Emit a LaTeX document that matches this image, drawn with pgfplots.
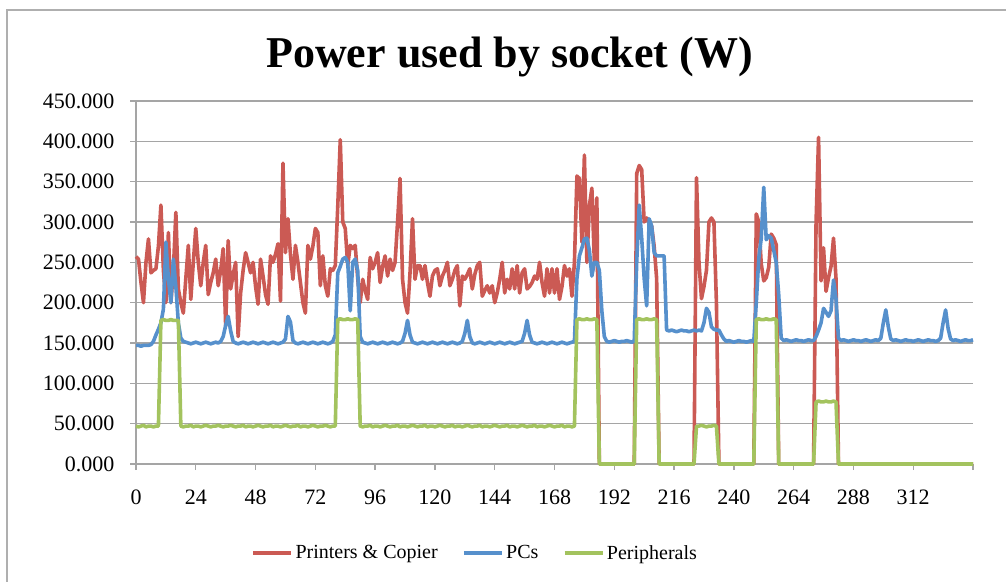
\documentclass[border=0pt]{standalone}
\usepackage{pgfplots}
\pgfplotsset{compat=1.18}
\usepackage{pgfplotstable}
\usepackage{fontspec}
\setmainfont{Liberation Serif}
\definecolor{pcred}{RGB}{203,90,84}
\definecolor{pcblue}{RGB}{86,144,204}
\definecolor{pcgreen}{RGB}{163,195,94}
\definecolor{gridgray}{RGB}{165,165,165}
\definecolor{framegray}{RGB}{175,175,175}

% h = hour, r = Printers & Copier, b = PCs, g = Peripherals
\pgfplotstableread[row sep=\\]{
h r b g\\
0 257 147 47\\ 1 254 147 46\\ 2 225 146 47\\ 3 200 147 48\\ 4 250 147 46\\
5 279 147 47\\ 6 237 148 47\\ 7 240 152 46\\ 8 242 160 47\\ 9 270 167 47\\
10 321 175 178\\ 11 240 192 179\\ 12 200 275 178\\ 13 287 230 178\\ 14 200 200 179\\
15 240 254 178\\ 16 312 220 178\\ 17 217 175 178\\ 18 200 156 47\\ 19 187 152 46\\
20 230 151 47\\ 21 271 150 47\\ 22 204 149 48\\ 23 250 150 46\\ 24 292 151 47\\
25 250 150 47\\ 26 221 149 46\\ 27 250 150 47\\ 28 271 151 48\\ 29 210 150 47\\
30 225 149 46\\ 31 237 150 47\\ 32 254 151 47\\ 33 221 150 48\\ 34 240 152 47\\
35 267 158 46\\ 36 171 172 47\\ 37 277 183 47\\ 38 217 165 48\\ 39 235 152 47\\
40 250 150 46\\ 41 158 149 47\\ 42 212 150 47\\ 43 240 151 48\\ 44 262 150 46\\
45 250 149 47\\ 46 237 150 47\\ 47 250 151 46\\ 48 220 150 47\\ 49 198 149 48\\
50 254 150 47\\ 51 233 151 46\\ 52 210 150 47\\ 53 198 149 47\\ 54 258 150 48\\
55 250 151 46\\ 56 260 150 47\\ 57 273 149 47\\ 58 202 150 46\\ 59 373 151 47\\
60 262 155 48\\ 61 304 183 47\\ 62 260 176 46\\ 63 229 153 47\\ 64 271 150 47\\
65 250 149 48\\ 66 225 150 46\\ 67 200 151 47\\ 68 187 150 47\\ 69 271 149 46\\
70 254 150 47\\ 71 270 151 48\\ 72 292 150 47\\ 73 287 149 46\\ 74 221 150 47\\
75 258 151 47\\ 76 221 150 48\\ 77 208 149 47\\ 78 242 150 46\\ 79 240 152 47\\
80 246 160 47\\ 81 320 237 179\\ 82 402 245 180\\ 83 300 254 179\\ 84 292 256 179\\
85 246 250 180\\ 86 271 190 179\\ 87 267 250 179\\ 88 271 254 180\\ 89 230 240 179\\
90 200 158 47\\ 91 229 151 46\\ 92 215 150 47\\ 93 204 149 47\\ 94 256 150 48\\
95 242 151 46\\ 96 250 150 47\\ 97 262 149 47\\ 98 225 150 46\\ 99 245 151 47\\
100 258 150 48\\ 101 233 149 47\\ 102 254 150 46\\ 103 240 151 47\\ 104 250 150 47\\
105 300 149 48\\ 106 354 150 46\\ 107 229 152 47\\ 108 200 162 47\\ 109 187 178 46\\
110 237 160 47\\ 111 304 151 48\\ 112 229 150 47\\ 113 246 149 46\\ 114 246 150 47\\
115 229 151 47\\ 116 246 150 48\\ 117 225 149 46\\ 118 208 150 47\\ 119 233 151 47\\
120 240 150 46\\ 121 242 149 47\\ 122 221 150 48\\ 123 233 151 47\\ 124 240 150 46\\
125 250 149 47\\ 126 221 150 47\\ 127 229 151 48\\ 128 240 150 46\\ 129 246 149 47\\
130 196 150 47\\ 131 233 152 46\\ 132 229 162 47\\ 133 235 178 48\\ 134 242 158 47\\
135 217 150 46\\ 136 235 149 47\\ 137 246 150 47\\ 138 250 151 48\\ 139 208 150 46\\
140 215 149 47\\ 141 221 150 47\\ 142 212 151 46\\ 143 221 150 47\\ 144 200 149 48\\
145 212 150 47\\ 146 229 151 46\\ 147 250 150 47\\ 148 212 149 47\\ 149 229 150 48\\
150 217 151 46\\ 151 242 150 47\\ 152 217 149 47\\ 153 246 150 46\\ 154 212 151 47\\
155 237 152 48\\ 156 242 162 47\\ 157 217 178 46\\ 158 220 160 47\\ 159 225 151 47\\
160 233 150 48\\ 161 229 149 46\\ 162 250 150 47\\ 163 225 151 47\\ 164 208 150 46\\
165 242 149 47\\ 166 212 150 48\\ 167 242 151 47\\ 168 212 150 46\\ 169 242 149 47\\
170 204 150 47\\ 171 220 151 48\\ 172 246 150 46\\ 173 233 149 47\\ 174 242 150 47\\
175 208 151 46\\ 176 250 152 47\\ 177 357 230 179\\ 178 354 258 180\\ 179 275 268 179\\
180 383 279 179\\ 181 250 280 180\\ 182 320 265 179\\ 183 342 233 179\\ 184 250 250 180\\
185 330 250 179\\ 186 0 240 0\\ 187 0 190 0\\ 188 0 158 0\\ 189 0 152 0\\
190 0 151 0\\ 191 0 152 0\\ 192 0 153 0\\ 193 0 152 0\\ 194 0 151 0\\
195 0 152 0\\ 196 0 152 0\\ 197 0 153 0\\ 198 0 152 0\\ 199 0 151 0\\
200 0 152 0\\ 201 360 250 179\\ 202 370 321 180\\ 203 365 280 179\\ 204 300 230 179\\
205 305 196 180\\ 206 300 304 179\\ 207 295 295 179\\ 208 270 262 180\\ 209 230 258 179\\
210 0 258 0\\ 211 0 258 0\\ 212 0 258 0\\ 213 0 166 0\\ 214 0 165 0\\
215 0 166 0\\ 216 0 165 0\\ 217 0 164 0\\ 218 0 165 0\\ 219 0 166 0\\
220 0 165 0\\ 221 0 165 0\\ 222 0 164 0\\ 223 0 165 0\\ 224 0 166 0\\
225 355 165 47\\ 226 250 166 47\\ 227 205 165 48\\ 228 220 175 47\\ 229 240 193 46\\
230 300 188 47\\ 231 305 170 47\\ 232 300 167 48\\ 233 200 166 47\\ 234 0 166 0\\
235 0 160 0\\ 236 0 155 0\\ 237 0 152 0\\ 238 0 153 0\\ 239 0 152 0\\
240 0 151 0\\ 241 0 152 0\\ 242 0 153 0\\ 243 0 152 0\\ 244 0 152 0\\
245 0 151 0\\ 246 0 152 0\\ 247 0 153 0\\ 248 0 152 0\\ 249 310 200 179\\
250 300 255 180\\ 251 248 280 179\\ 252 227 343 179\\ 253 231 278 180\\ 254 244 283 179\\
255 285 280 179\\ 256 280 265 180\\ 257 272 250 179\\ 258 0 210 0\\ 259 0 156 0\\
260 0 153 0\\ 261 0 154 0\\ 262 0 153 0\\ 263 0 152 0\\ 264 0 153 0\\
265 0 154 0\\ 266 0 153 0\\ 267 0 153 0\\ 268 0 152 0\\ 269 0 153 0\\
270 0 154 0\\ 271 0 153 0\\ 272 0 153 0\\ 273 300 158 77\\ 274 405 166 78\\
275 227 175 77\\ 276 268 193 77\\ 277 214 188 78\\ 278 231 183 77\\ 279 245 190 77\\
280 280 228 78\\ 281 230 205 77\\ 282 0 156 0\\ 283 0 153 0\\ 284 0 154 0\\
285 0 153 0\\ 286 0 152 0\\ 287 0 153 0\\ 288 0 154 0\\ 289 0 153 0\\
290 0 153 0\\ 291 0 152 0\\ 292 0 153 0\\ 293 0 154 0\\ 294 0 153 0\\
295 0 152 0\\ 296 0 153 0\\ 297 0 154 0\\ 298 0 153 0\\ 299 0 156 0\\
300 0 175 0\\ 301 0 191 0\\ 302 0 170 0\\ 303 0 155 0\\ 304 0 153 0\\
305 0 154 0\\ 306 0 153 0\\ 307 0 152 0\\ 308 0 153 0\\ 309 0 154 0\\
310 0 153 0\\ 311 0 153 0\\ 312 0 152 0\\ 313 0 153 0\\ 314 0 154 0\\
315 0 153 0\\ 316 0 152 0\\ 317 0 153 0\\ 318 0 154 0\\ 319 0 153 0\\
320 0 153 0\\ 321 0 152 0\\ 322 0 153 0\\ 323 0 156 0\\ 324 0 175 0\\
325 0 191 0\\ 326 0 168 0\\ 327 0 155 0\\ 328 0 153 0\\ 329 0 154 0\\
330 0 153 0\\ 331 0 152 0\\ 332 0 153 0\\ 333 0 154 0\\ 334 0 153 0\\
335 0 153 0\\ 336 0 154 0\\
}\datatab

\begin{document}
\begin{tikzpicture}
\path[use as bounding box] (0pt,0pt) rectangle (1006pt,581pt);
\draw[framegray, line width=2pt] (7pt,-2pt) -- (7pt,571pt) -- (1008pt,571pt);
\node[font=\fontsize{44}{52}\selectfont\bfseries, anchor=base] at (509.5pt,513pt) {Power used by socket (W)};
\begin{axis}[
  at={(136pt,117pt)}, anchor=south west,
  scale only axis, width=837pt, height=363pt,
  xmin=0, xmax=336, ymin=0, ymax=450,
  clip=false,
  axis lines*=left,
  axis line style={gridgray, line width=1.5pt},
  xtick={0,24,...,336},
  xticklabels={0,24,48,72,96,120,144,168,192,216,240,264,288,312,{}},
  ytick={0,50,...,450},
  ymajorgrids,
  grid style={gridgray, line width=1.3pt},
  tick align=outside,
  major tick length=6pt,
  tick style={gridgray, line width=1.3pt},
  /pgf/number format/assume math mode=true,
  yticklabel style={font=\fontsize{22}{26}\selectfont, xshift=-12pt,
    /pgf/number format/.cd, fixed, fixed zerofill, precision=3, 1000 sep={}},
  xticklabel style={font=\fontsize{22}{26}\selectfont, yshift=-16pt},
  legend columns=3,
  legend style={at={(0.405,-0.245)}, anchor=center, draw=none, fill=none,
    font=\fontsize{20}{24}\selectfont,
    /tikz/every even column/.append style={column sep=22pt}},
  legend image code/.code={\draw[#1, line width=4.5pt, line cap=butt] (0pt,0pt) -- (38pt,0pt);},
  every axis plot/.append style={line width=3.6pt, line join=round, mark=none},
]
\addplot[pcred] table[x=h, y=r] {\datatab};
\addlegendentry{Printers \& Copier}
\addplot[pcblue] table[x=h, y=b] {\datatab};
\addlegendentry{PCs}
\addplot[pcgreen] table[x=h, y=g] {\datatab};
\addlegendentry{Peripherals}
\end{axis}
\end{tikzpicture}
\end{document}
